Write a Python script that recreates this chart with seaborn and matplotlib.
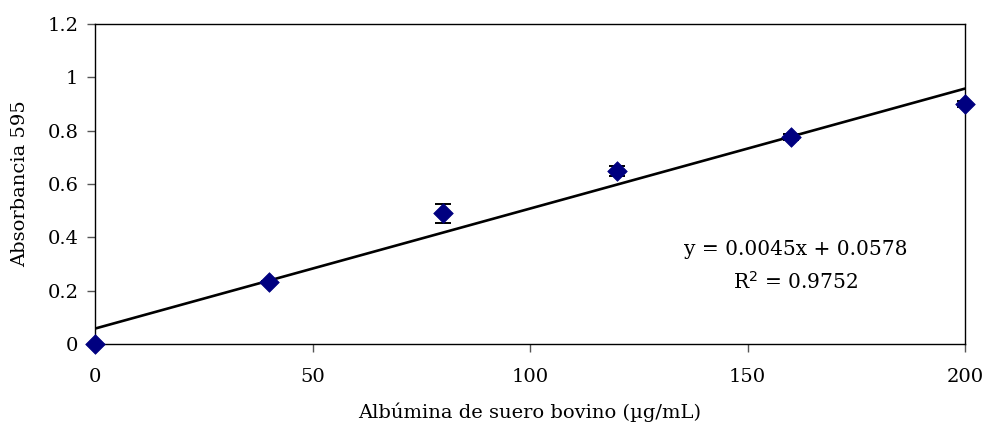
import numpy as np
import pandas as pd
import matplotlib
matplotlib.use("Agg")
import matplotlib.pyplot as plt
import seaborn as sns

# Bradford calibration: BSA concentration vs absorbance at 595 nm
concentracion = [0, 40, 80, 120, 160, 200]
absorbancia = [0.0, 0.232, 0.490, 0.648, 0.777, 0.900]
desviacion = [0.0, 0.005, 0.035, 0.018, 0.012, 0.012]

# Linear trendline coefficients
pendiente = 0.0045
intercepto = 0.0578
r2 = 0.9752

x_ticks = [0, 50, 100, 150, 200]
y_ticks = [0, 0.2, 0.4, 0.6, 0.8, 1.0, 1.2]
y_ticklabels = ["0", "0.2", "0.4", "0.6", "0.8", "1", "1.2"]

sns.set_theme(style="white")
plt.rcParams["font.family"] = ["DejaVu Serif"]

df = pd.DataFrame({"x": concentracion, "y": absorbancia, "err": desviacion})

fig = plt.figure(figsize=(9.9, 4.25), dpi=100)
ax = fig.add_axes([95 / 990, 1 - 344 / 425, 870 / 990, 320 / 425])

# Trendline from the fitted equation
x_fit = np.array([0, 200])
trend = pd.DataFrame({"x": x_fit, "y": pendiente * x_fit + intercepto})
sns.lineplot(data=trend, x="x", y="y", ax=ax, color="black", linewidth=1.9, zorder=2)

ax.errorbar(df["x"], df["y"], yerr=df["err"], fmt="none", ecolor="black",
            elinewidth=1.4, capsize=5.5, capthick=1.4, zorder=3)
sns.scatterplot(data=df, x="x", y="y", ax=ax, marker="D", s=100, color="#000080",
                edgecolor="#000080", linewidth=0.5, zorder=4, clip_on=False)

ax.set_xlim(0, 200)
ax.set_ylim(0, 1.2)
ax.set_xticks(x_ticks)
ax.set_yticks(y_ticks)
ax.set_yticklabels(y_ticklabels)

for s in ax.spines.values():
    s.set_visible(True)
    s.set_color("black")
    s.set_linewidth(1.0)

ax.tick_params(axis="both", which="major", direction="out", length=6, width=1,
               color="#555555", labelsize=14, labelcolor="black", left=True, bottom=True)
ax.tick_params(axis="x", pad=11)
ax.tick_params(axis="y", pad=6)

ax.set_xlabel("Albúmina de suero bovino (µg/mL)", fontsize=14, labelpad=12, color="black")
ax.set_ylabel("Absorbancia 595", fontsize=14, labelpad=13, color="black")

ax.text(0.805, 0.295, f"y = {pendiente}x + {intercepto}", transform=ax.transAxes,
        ha="center", va="center", fontsize=14.5, color="black")
ax.text(0.805, 0.195, f"R$^2$ = {r2}", transform=ax.transAxes,
        ha="center", va="center", fontsize=14.5, color="black")

fig.savefig("out.png", dpi=100, facecolor="white")
